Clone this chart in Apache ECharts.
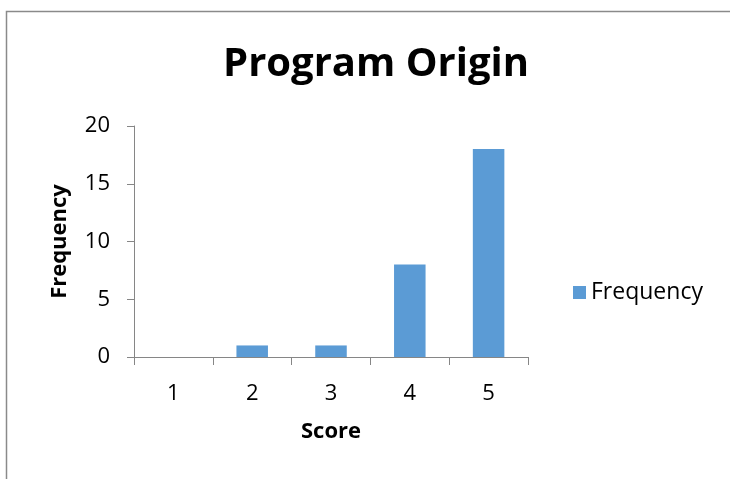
<!DOCTYPE html>
<html>
<head>
<meta charset="utf-8">
<script src="https://cdn.jsdelivr.net/npm/echarts@6/dist/echarts.min.js"></script>
<style>
  html, body { margin: 0; padding: 0; background: #fff; }
  #chart { width: 730px; height: 479px; }
</style>
</head>
<body>
<div id="chart"></div>
<script>
// Program Origin: frequency of each score
const titleText = 'Program Origin';
const scores = ['1', '2', '3', '4', '5'];
const frequency = [0, 1, 1, 8, 18];
const seriesName = 'Frequency';
const xAxisName = 'Score';
const yAxisName = 'Frequency';

const FONT = '"Open Sans", "Liberation Sans", sans-serif';
const axisGray = '#868686';

const chart = echarts.init(document.getElementById('chart'), null, { renderer: 'canvas' });

chart.setOption({
  backgroundColor: '#ffffff',
  animation: false,
  title: {
    text: titleText,
    left: 371,
    top: 40,
    textAlign: 'center',
    textStyle: { fontFamily: FONT, fontWeight: 'bold', fontSize: 40, color: '#000' }
  },
  graphic: [{
    type: 'rect',
    shape: { x: 6.5, y: 11.5, width: 800, height: 600 },
    style: { fill: 'none', stroke: '#8a8a8a', lineWidth: 1.5 },
    silent: true
  }],
  legend: {
    data: [seriesName],
    left: 568,
    top: 276,
    itemWidth: 13,
    itemHeight: 13,
    itemGap: 8,
    icon: 'rect',
    textStyle: { fontFamily: FONT, fontSize: 23, color: '#000' }
  },
  grid: { left: 134, top: 126, width: 394, height: 231, containLabel: false },
  xAxis: {
    type: 'category',
    data: scores,
    name: xAxisName,
    nameLocation: 'middle',
    nameGap: 64,
    nameTextStyle: { fontFamily: FONT, fontWeight: 'bold', fontSize: 22, color: '#000' },
    axisLine: { lineStyle: { color: axisGray, width: 1 } },
    axisTick: { show: true, length: 8, lineStyle: { color: axisGray } },
    axisLabel: { margin: 26, fontFamily: FONT, fontSize: 22, color: '#000' },
    splitLine: { show: false }
  },
  yAxis: {
    type: 'value',
    min: 0,
    max: 20,
    interval: 5,
    name: yAxisName,
    nameLocation: 'middle',
    nameGap: 63,
    nameRotate: 90,
    nameTextStyle: { fontFamily: FONT, fontWeight: 'bold', fontSize: 22, color: '#000' },
    axisLine: { show: true, lineStyle: { color: axisGray, width: 1 } },
    axisTick: { show: true, length: 7, lineStyle: { color: axisGray } },
    axisLabel: { margin: 24, fontFamily: FONT, fontSize: 22, color: '#000' },
    splitLine: { show: false }
  },
  series: [{
    name: seriesName,
    type: 'bar',
    data: frequency,
    barWidth: '40%',
    itemStyle: { color: '#5B9BD5' }
  }]
});
</script>
</body>
</html>
